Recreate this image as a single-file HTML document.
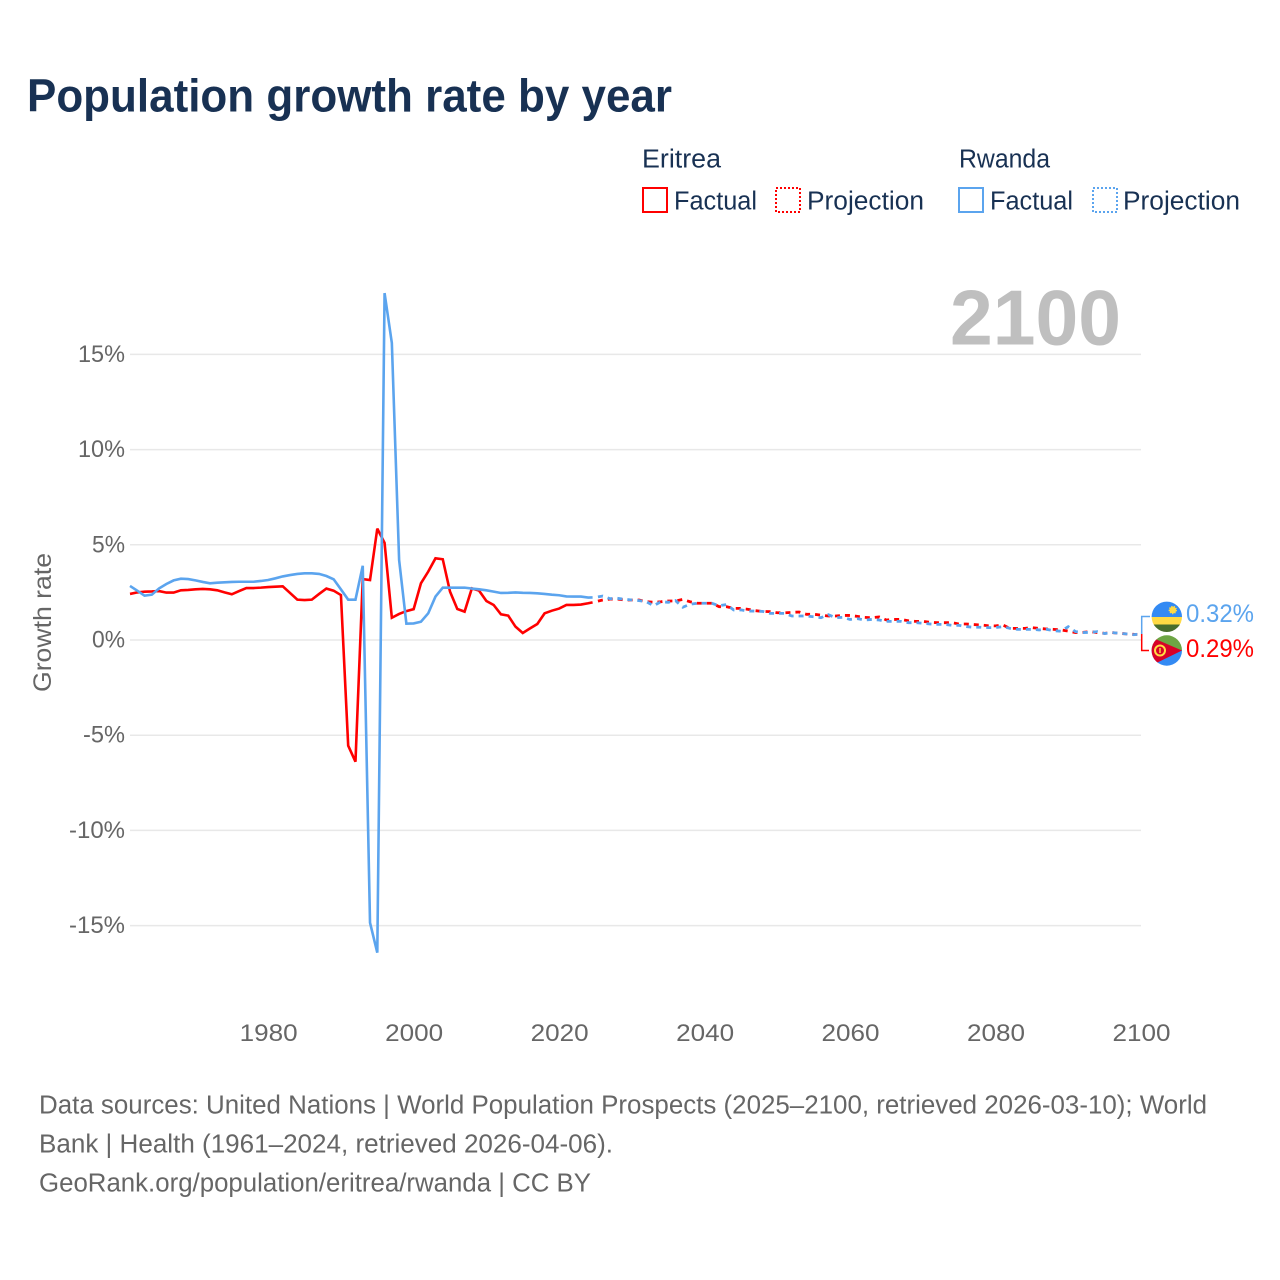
<!DOCTYPE html>
<html lang="en">
<head>
<meta charset="utf-8">
<title>Population growth rate by year</title>
<style>
html,body{margin:0;padding:0;background:#fff;width:1280px;height:1280px;overflow:hidden}
svg{display:block}
text{font-family:"Liberation Sans","DejaVu Sans",sans-serif}
</style>
</head>
<body>
<svg id="chart" xmlns="http://www.w3.org/2000/svg" width="1280" height="1280" viewBox="0 0 1280 1280">
  <defs>
    <clipPath id="flag-clip-rw"><circle cx="1166.8" cy="616.8" r="15.2"/></clipPath>
    <clipPath id="flag-clip-er"><circle cx="1166.8" cy="650.5" r="15.2"/></clipPath>
  </defs>

  <text x="27" y="111.5" font-size="46" font-weight="700" fill="#183153" textLength="645" lengthAdjust="spacingAndGlyphs">Population growth rate by year</text>

  <g font-size="25.5" fill="#183153">
    <text x="642" y="167.5" textLength="79" lengthAdjust="spacingAndGlyphs">Eritrea</text>
    <text x="959" y="167.5" textLength="91" lengthAdjust="spacingAndGlyphs">Rwanda</text>
    <g>
      <rect x="643" y="188" width="24" height="24" fill="none" stroke="#ff0000" stroke-width="2"/>
      <text x="674" y="209.5" textLength="83" lengthAdjust="spacingAndGlyphs">Factual</text>
    </g>
    <g>
      <rect x="776" y="188" width="24" height="24" fill="none" stroke="#ff0000" stroke-width="2" stroke-dasharray="2 2"/>
      <text x="807" y="209.5" textLength="117" lengthAdjust="spacingAndGlyphs">Projection</text>
    </g>
    <g>
      <rect x="959" y="188" width="24" height="24" fill="none" stroke="#5ba4ee" stroke-width="2"/>
      <text x="990" y="209.5" textLength="83" lengthAdjust="spacingAndGlyphs">Factual</text>
    </g>
    <g>
      <rect x="1093" y="188" width="24" height="24" fill="none" stroke="#5ba4ee" stroke-width="2" stroke-dasharray="2 2"/>
      <text x="1123" y="209.5" textLength="117" lengthAdjust="spacingAndGlyphs">Projection</text>
    </g>
  </g>

  <text x="950" y="344.5" font-size="78" font-weight="700" fill="#bfbfbf" textLength="171" lengthAdjust="spacingAndGlyphs">2100</text>

  <g id="grid"></g>
  <g id="y-ticks" font-size="24.5" fill="#666666"></g>
  <g id="x-ticks" font-size="24.5" fill="#666666"></g>
  <text transform="translate(51 692) rotate(-90)" font-size="25" fill="#666666" textLength="139" lengthAdjust="spacingAndGlyphs">Growth rate</text>

  <g id="series"></g>

  <g>
    <path d="M1141.7 634V616.5H1150" fill="none" stroke="#5ba4ee" stroke-width="1.5"/>
    <path d="M1141.7 634V650.5H1149" fill="none" stroke="#ff0000" stroke-width="1.5"/>
    <g clip-path="url(#flag-clip-rw)">
      <rect x="1150" y="600" width="34" height="17" fill="#338af3"/>
      <rect x="1150" y="617" width="34" height="8" fill="#ffda44"/>
      <rect x="1150" y="624.5" width="34" height="9" fill="#496e2d"/>
      <circle cx="1172.8" cy="610" r="3.4" fill="#ffda44" stroke="#ffda44" stroke-width="1.6" stroke-dasharray="1.2 1.2"/>
    </g>
    <g clip-path="url(#flag-clip-er)">
      <rect x="1150" y="634" width="34" height="17" fill="#6da544"/>
      <rect x="1150" y="650.5" width="34" height="17" fill="#338af3"/>
      <polygon points="1146,635 1182,650.5 1146,668" fill="#d80027"/>
      <circle cx="1160" cy="650.5" r="5" fill="none" stroke="#ffda44" stroke-width="2"/>
      <rect x="1159.3" y="648" width="1.4" height="5" fill="#ffda44"/>
    </g>
    <text x="1186" y="622" font-size="25" fill="#5ba4ee" textLength="68" lengthAdjust="spacingAndGlyphs">0.32%</text>
    <text x="1186" y="657" font-size="25" fill="#ff0000" textLength="68" lengthAdjust="spacingAndGlyphs">0.29%</text>
  </g>

  <g font-size="25.5" fill="#666666">
    <text x="39" y="1113.5" textLength="1168" lengthAdjust="spacingAndGlyphs">Data sources: United Nations | World Population Prospects (2025–2100, retrieved 2026-03-10); World</text>
    <text x="39" y="1152.5" textLength="574" lengthAdjust="spacingAndGlyphs">Bank | Health (1961–2024, retrieved 2026-04-06).</text>
    <text x="39" y="1191.5" textLength="552" lengthAdjust="spacingAndGlyphs">GeoRank.org/population/eritrea/rwanda | CC BY</text>
  </g>
</svg>

<script>
const yTickValues = [-15, -10, -5, 0, 5, 10, 15];
const yTickLabels = ["-15%", "-10%", "-5%", "0%", "5%", "10%", "15%"];
const xTickValues = [1980, 2000, 2020, 2040, 2060, 2080, 2100];
const xTickLabels = ["1980", "2000", "2020", "2040", "2060", "2080", "2100"];
const factualStartYear = 1961;
const projectionStartYear = 2025;

const eritreaFactual = [
  2.42,2.50,2.54,2.55,2.57,2.49,2.49,2.61,2.63,2.66,
  2.68,2.66,2.61,2.50,2.40,2.57,2.73,2.73,2.75,2.78,
  2.80,2.82,2.47,2.12,2.10,2.12,2.42,2.70,2.59,2.36,
  -5.55,-6.39,3.2,3.15,5.85,5.1,1.17,1.37,1.52,1.62,
  2.98,3.59,4.29,4.24,2.54,1.63,1.49,2.71,2.59,2.05,
  1.84,1.35,1.28,0.70,0.37,0.61,0.84,1.40,1.54,1.65,
  1.84,1.84,1.86,1.93
];
const rwandaFactual = [
  2.84,2.59,2.33,2.38,2.71,2.94,3.13,3.22,3.20,3.13,
  3.05,2.98,3.01,3.03,3.05,3.06,3.06,3.06,3.10,3.15,
  3.24,3.34,3.41,3.47,3.50,3.50,3.47,3.36,3.19,2.66,
  2.12,2.12,3.90,-14.85,-16.42,18.22,15.6,4.2,0.86,0.87,
  0.96,1.40,2.28,2.75,2.75,2.75,2.75,2.70,2.66,2.61,
  2.54,2.47,2.48,2.50,2.48,2.47,2.45,2.42,2.38,2.35,
  2.29,2.28,2.28,2.23
];
const eritreaProjection = [
  2.01,2.10,2.15,2.15,2.10,2.10,2.10,2.01,1.98,2.01,
  2.05,2.05,2.13,2.01,1.93,1.93,1.93,1.75,1.75,1.66,
  1.66,1.61,1.54,1.50,1.49,1.43,1.43,1.45,1.47,1.35,
  1.35,1.31,1.26,1.26,1.29,1.29,1.24,1.19,1.17,1.21,
  1.05,1.08,1.08,1.01,0.98,0.98,0.93,0.91,0.91,0.91,
  0.84,0.84,0.81,0.79,0.75,0.74,0.79,0.61,0.61,0.61,
  0.65,0.61,0.58,0.56,0.53,0.47,0.39,0.40,0.44,0.39,
  0.35,0.39,0.35,0.32,0.30,0.29
];
const rwandaProjection = [
  2.24,2.31,2.17,2.19,2.14,2.10,2.07,2.01,1.80,2.01,
  1.98,2.07,1.72,1.88,1.93,1.93,1.93,1.80,1.86,1.58,
  1.58,1.52,1.52,1.50,1.40,1.40,1.40,1.26,1.26,1.26,
  1.22,1.17,1.33,1.17,1.19,1.08,1.12,1.05,1.08,1.05,
  0.98,0.98,0.98,0.91,0.91,0.88,0.84,0.82,0.82,0.77,
  0.77,0.70,0.67,0.67,0.65,0.65,0.70,0.61,0.56,0.56,
  0.56,0.53,0.56,0.49,0.46,0.70,0.44,0.39,0.40,0.44,
  0.34,0.39,0.35,0.32,0.28,0.32
];

const NS = "http://www.w3.org/2000/svg";
const xScale = year => 130 + (year - 1961) * (1141 - 130) / (2100 - 1961);
const yScale = value => 640 - value * 19.04;
const xTickLabelX = year => xScale(year) + 0.5;

function tickLabelWidth(label) {
  let width = 0;
  for (const ch of label) {
    if (ch === "-") width += 9;
    else if (ch === "%") width += 19;
    else width += 14;
  }
  return width;
}

function make(tag, attrs, parent, text) {
  const el = document.createElementNS(NS, tag);
  for (const key in attrs) el.setAttribute(key, attrs[key]);
  if (text !== undefined) el.textContent = text;
  parent.appendChild(el);
  return el;
}

const gridGroup = document.getElementById("grid");
const yTickGroup = document.getElementById("y-ticks");
const xTickGroup = document.getElementById("x-ticks");
const seriesGroup = document.getElementById("series");

yTickValues.forEach((value, i) => {
  const line = make("line", {x1: 130, x2: 1141, y1: yScale(value), y2: yScale(value), stroke: "#e8e8e8", "stroke-width": 1.5}, gridGroup);
  
  
  const label = make("text", {x: 125, y: yScale(value) + 7.5, "text-anchor": "end", textLength: tickLabelWidth(yTickLabels[i]), lengthAdjust: "spacingAndGlyphs"}, yTickGroup, yTickLabels[i]);
  
  
});

xTickValues.forEach((year, i) => {
  const label = make("text", {x: xTickLabelX(year), y: 1041, "text-anchor": "middle", textLength: 58, lengthAdjust: "spacingAndGlyphs"}, xTickGroup, xTickLabels[i]);
  
  
});

function projectionPath(values, startYear) {
  return "M" + values.map((v, i) => xScale(startYear + i).toFixed(2) + " " + yScale(v).toFixed(2)).join("L");
}

function factualPath(values, startYear, nextValue) {
  const points = values.map((v, i) => xScale(startYear + i).toFixed(2) + " " + yScale(v).toFixed(2));
  const last = values[values.length - 1];
  const fraction = 0.6;
  const endYear = startYear + values.length - 1 + fraction;
  points.push(xScale(endYear).toFixed(2) + " " + yScale(last + (nextValue - last) * fraction).toFixed(2));
  return "M" + points.join("L");
}

const dashAttrs = {fill: "none", "stroke-width": 2.8, "stroke-dasharray": "5 5", "stroke-dashoffset": 7.5};
const solidAttrs = {fill: "none", "stroke-width": 2.6, "stroke-linejoin": "miter", "stroke-miterlimit": 3};

const eritreaProjectionLine = make("path", Object.assign({d: projectionPath(eritreaProjection, projectionStartYear), stroke: "#ff0000"}, dashAttrs), seriesGroup);



const rwandaProjectionLine = make("path", Object.assign({d: projectionPath(rwandaProjection, projectionStartYear), stroke: "#5ba4ee"}, dashAttrs), seriesGroup);



const eritreaFactualLine = make("path", Object.assign({d: factualPath(eritreaFactual, factualStartYear, eritreaProjection[0]), stroke: "#ff0000"}, solidAttrs), seriesGroup);



const rwandaFactualLine = make("path", Object.assign({d: factualPath(rwandaFactual, factualStartYear, rwandaProjection[0]), stroke: "#5ba4ee"}, solidAttrs), seriesGroup);


</script>
</body>
</html>
